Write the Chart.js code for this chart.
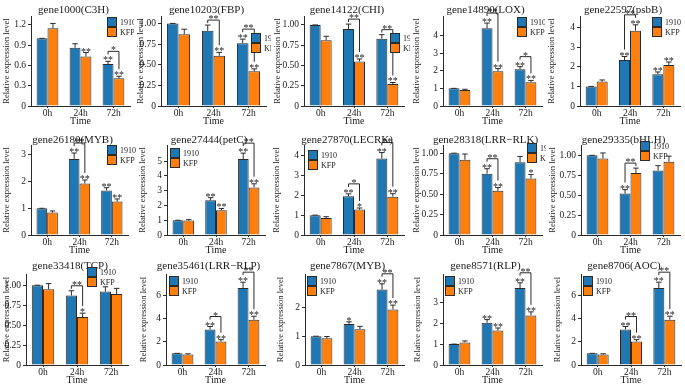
<!DOCTYPE html>
<html>
<head>
<meta charset="utf-8">
<script src="https://cdn.jsdelivr.net/npm/chart.js@4.4.0/dist/chart.umd.min.js"></script>
<style>
  html, body { margin: 0; padding: 0; background: #fff; }
  #fig { position: relative; width: 685px; height: 386px; overflow: hidden; background: #fff; }
  .panel { position: absolute; }
</style>
</head>
<body>
<div id="fig"></div>
<script>
// ---- data ----
const times = ['0h', '24h', '72h'];
const cultivars = ['1910', 'KFP'];
const genes = ['gene1000(C3H)', 'gene10203(FBP)', 'gene14122(CHI)', 'gene14890(LOX)', 'gene22597(psbB)',
  'gene26180(MYB)', 'gene27444(petC)', 'gene27870(LECRK)', 'gene28318(LRR\u2212RLK)', 'gene29335(bHLH)',
  'gene33418(TCP)', 'gene35461(LRR\u2212RLP)', 'gene7867(MYB)', 'gene8571(RLP)', 'gene8706(AOC)'];

const mean1910 = [
  [1.00, 0.86, 0.62], [1.00, 0.91, 0.76], [1.00, 0.95, 0.83], [1.00, 4.40, 2.08], [1.00, 2.35, 1.62],
  [1.00, 2.85, 1.67], [1.00, 2.35, 5.15], [1.00, 1.95, 3.85], [1.00, 0.75, 0.89], [1.00, 0.52, 0.81],
  [1.00, 0.87, 0.92], [1.00, 3.05, 6.60], [1.00, 1.42, 2.62], [1.00, 2.02, 3.68], [1.00, 3.05, 6.60]
];
const err1910 = [
  [0, 0.06, 0.04], [0, 0.07, 0.05], [0, 0.06, 0.05], [0, 0.30, 0.15], [0, 0.18, 0.12],
  [0, 0.22, 0.10], [0, 0.18, 0.40], [0, 0.12, 0.30], [0, 0.06, 0.07], [0, 0.05, 0.06],
  [0, 0.06, 0.06], [0, 0.25, 0.50], [0, 0.08, 0.20], [0, 0.15, 0.25], [0, 0.25, 0.50]
];
const meanKFP = [
  [1.15, 0.73, 0.41], [0.87, 0.61, 0.42], [0.81, 0.55, 0.27], [0.90, 1.97, 1.35], [1.25, 3.85, 2.10],
  [0.84, 1.93, 1.25], [0.98, 1.68, 3.22], [0.86, 1.28, 1.93], [0.92, 0.54, 0.69], [0.96, 0.78, 0.92],
  [0.95, 0.60, 0.89], [0.90, 2.02, 3.88], [0.93, 1.24, 1.93], [1.08, 1.65, 2.37], [0.90, 2.02, 3.88]
];
const errKFP = [
  [0.07, 0.06, 0.03], [0.06, 0.04, 0.03], [0.05, 0.03, 0.02], [0.05, 0.15, 0.10], [0.08, 0.30, 0.15],
  [0.06, 0.13, 0.10], [0.06, 0.12, 0.25], [0.06, 0.08, 0.15], [0.07, 0.04, 0.05], [0.07, 0.06, 0.07],
  [0.07, 0.05, 0.07], [0.06, 0.15, 0.30], [0.06, 0.10, 0.15], [0.07, 0.12, 0.17], [0.06, 0.15, 0.30]
];
// significance marks above each bar, and on the bracket between the pair
const sig1910 = [
  ['', '', '**'], ['', '', '**'], ['', '', ''], ['', '**', '**'], ['', '**', '**'],
  ['', '**', '**'], ['', '**', '**'], ['', '**', '**'], ['', '**', ''], ['', '**', ''],
  ['', '', ''], ['', '**', '**'], ['', '*', '**'], ['', '**', '**'], ['', '**', '**']
];
const sigKFP = [
  ['', '**', '**'], ['', '**', '**'], ['', '**', '**'], ['', '**', '**'], ['', '**', '**'],
  ['', '**', '**'], ['', '**', '**'], ['', '*', '**'], ['', '**', '*'], ['', '', ''],
  ['', '*', ''], ['', '**', '**'], ['', '', '**'], ['', '**', '**'], ['', '**', '**']
];
const sigPair = [
  ['', '', '*'], ['', '**', '**'], ['', '**', '**'], ['', '**', '*'], ['', '**', ''],
  ['', '**', ''], ['', '', '**'], ['', '*', '**'], ['', '**', ''], ['', '**', ''],
  ['', '**', ''], ['', '*', '**'], ['', '', '**'], ['', '', '**'], ['', '**', '**']
];
const yTickLabels = [
  ['0', '0.3', '0.6', '0.9', '1.2'], ['0', '0.25', '0.50', '0.75', '1.00'], ['0', '0.25', '0.50', '0.75', '1.00'],
  ['0', '1', '2', '3', '4'], ['0', '1', '2', '3', '4'],
  ['0', '1', '2', '3'], ['0', '1', '2', '3', '4', '5'], ['0', '1', '2', '3', '4'],
  ['0', '0.25', '0.50', '0.75', '1.00'], ['0', '0.25', '0.50', '0.75', '1.00'],
  ['0', '0.25', '0.50', '0.75', '1.00'], ['0', '2', '4', '6'], ['0', '1', '2'], ['0', '1', '2', '3'], ['0', '2', '4', '6']
];
const yTop = [1.33, 1.09, 1.11, 5.1, 4.6, 3.37, 6.1, 4.53, 1.10, 1.13, 1.14, 7.8, 3.16, 4.35, 7.8];

// ---- layout (pixels on the page) ----
const canvasLeft = [0, 134, 271, 410, 545, 0, 136, 270, 410, 546, 0, 137, 274, 411, 551];
const plotLeft = [31, 161, 304, 443, 580, 31, 167, 304, 443, 581, 26, 166, 305, 443, 581];
const plotRight = [130, 266, 404, 542, 680, 128, 265, 404, 542, 680, 128, 265, 404, 542, 681];
const rowTop = [0, 128, 256];
const rowHeight = [128, 128, 130];
const plotTop = [16, 145, 274];
const axisY = [106, 235, 365];
const titleY = [10, 12.5, 10];
const legendXY = [[107, 17], [251, 33], [390, 33], [517, 17], [652, 17],
  [107, 145], [170, 148], [308, 150], [527, 143], [640, 141],
  [87, 267], [169, 276], [307, 276], [445, 276], [583, 276]];

const SERIF = "'Liberation Serif', 'Times New Roman', serif";
const BLUE = '#1f77b4';
const ORANGE = '#ff7f0e';
const EDGE = '#2b2b2b';
const INK = '#1a1a1a';

Chart.defaults.font.family = SERIF;
Chart.defaults.color = INK;

const decor = {
  id: 'decor',
  afterDatasetsDraw(chart, args, opts) {
    const i = opts.index;
    const ctx = chart.ctx;
    const y = chart.scales.y;
    const series = [[mean1910[i], err1910[i], sig1910[i]], [meanKFP[i], errKFP[i], sigKFP[i]]];
    const anchors = [[], []];
    ctx.save();
    ctx.strokeStyle = EDGE;
    ctx.fillStyle = INK;
    ctx.lineWidth = 1;
    ctx.font = '10px ' + SERIF;
    ctx.textAlign = 'center';
    ctx.textBaseline = 'alphabetic';
    series.forEach(([m, e, s], d) => {
      chart.getDatasetMeta(d).data.forEach((bar, k) => {
        const x = bar.x;
        const top = y.getPixelForValue(m[k] + e[k]);
        const half = bar.width * 0.25;
        ctx.beginPath();
        ctx.moveTo(x, bar.y);
        ctx.lineTo(x, top);
        ctx.moveTo(x - half, top);
        ctx.lineTo(x + half, top);
        ctx.stroke();
        let a = top - 2;
        if (s[k]) {
          ctx.fillText(s[k], x, top + 2);
          a = top - 7;
        }
        anchors[d][k] = { x, a };
      });
    });
    sigPair[i].forEach((s, k) => {
      if (!s) return;
      const L = anchors[0][k], R = anchors[1][k];
      const by = Math.min(L.a, R.a) - 3;
      ctx.beginPath();
      ctx.moveTo(L.x, L.a);
      ctx.lineTo(L.x, by);
      ctx.lineTo(R.x, by);
      ctx.lineTo(R.x, R.a);
      ctx.stroke();
      ctx.fillText(s, (L.x + R.x) / 2, by + 2);
    });
    ctx.restore();
  },
  afterDraw(chart, args, opts) {
    const i = opts.index;
    const ctx = chart.ctx;
    const area = chart.chartArea;
    ctx.save();
    // panel title
    ctx.fillStyle = INK;
    ctx.font = '11px ' + SERIF;
    ctx.textAlign = 'center';
    ctx.textBaseline = 'middle';
    ctx.fillText(genes[i], (area.left + area.right) / 2 - 7, opts.titleY);
    // legend
    const [lx, ly] = opts.legend;
    ctx.font = '8px ' + SERIF;
    ctx.textAlign = 'left';
    chart.data.datasets.forEach((ds, d) => {
      const by = ly + d * 10;
      ctx.fillStyle = ds.backgroundColor;
      ctx.fillRect(lx, by, 10, 10);
      ctx.strokeStyle = EDGE;
      ctx.lineWidth = 1;
      ctx.strokeRect(lx + 0.5, by + 0.5, 9, 9);
      ctx.fillStyle = INK;
      ctx.fillText(ds.label, lx + 13, by + 5.5);
    });
    ctx.restore();
  }
};

const fig = document.getElementById('fig');

function makePanel(i) {
  const row = Math.floor(i / 5);
  const left = canvasLeft[i];
  const right = (i % 5 === 4) ? 685 : canvasLeft[i + 1];
  const w = right - left;
  const h = rowHeight[row];
  const wrap = document.createElement('div');
  wrap.className = 'panel';
  wrap.style.left = left + 'px';
  wrap.style.top = rowTop[row] + 'px';
  wrap.style.width = w + 'px';
  wrap.style.height = h + 'px';
  const cv = document.createElement('canvas');
  wrap.appendChild(cv);
  fig.appendChild(wrap);

  const tickVals = yTickLabels[i].map(Number);
  const xHeight = h - (axisY[row] - rowTop[row]);

  new Chart(cv, {
    type: 'bar',
    data: {
      labels: times,
      datasets: [
        { label: cultivars[0], data: mean1910[i], backgroundColor: BLUE, borderColor: EDGE, borderWidth: 1 },
        { label: cultivars[1], data: meanKFP[i], backgroundColor: ORANGE, borderColor: EDGE, borderWidth: 1 }
      ]
    },
    options: {
      responsive: true,
      maintainAspectRatio: false,
      animation: false,
      devicePixelRatio: 1,
      layout: { padding: { left: 0, right: left + w - plotRight[i], top: plotTop[row] - rowTop[row], bottom: 0 } },
      datasets: { bar: { categoryPercentage: 0.66, barPercentage: 1 } },
      plugins: {
        legend: { display: false },
        tooltip: { enabled: false },
        decor: { index: i, titleY: titleY[row], legend: [legendXY[i][0] - left, legendXY[i][1] - rowTop[row]] }
      },
      scales: {
        x: {
          offset: true,
          grid: { display: true, offset: false, drawOnChartArea: false, drawTicks: true, tickLength: 2, color: EDGE },
          border: { display: true, color: EDGE, width: 1 },
          ticks: { font: { size: 9.5 }, color: INK, padding: 0, maxRotation: 0 },
          title: { display: true, text: 'Time', font: { size: 10 }, color: INK, padding: { top: 0, bottom: row === 0 ? 1 : 0 } },
          afterFit: (s) => { s.height = xHeight; }
        },
        y: {
          min: 0,
          max: yTop[i],
          grid: { display: true, drawOnChartArea: false, drawTicks: true, tickLength: 3, color: EDGE },
          border: { display: true, color: EDGE, width: 1 },
          afterBuildTicks: (s) => { s.ticks = tickVals.map(v => ({ value: v })); },
          ticks: { font: { size: 9.5 }, color: INK, padding: 2, callback: (v, idx) => yTickLabels[i][idx] },
          title: { display: true, text: 'Relative expression level', font: { size: 8.5 }, color: INK, padding: { top: 2, bottom: 0 } },
          afterFit: (s) => { s.width = plotLeft[i] - left; }
        }
      }
    },
    plugins: [decor]
  });
}

for (let i = 0; i < genes.length; i++) makePanel(i);
</script>
</body>
</html>
